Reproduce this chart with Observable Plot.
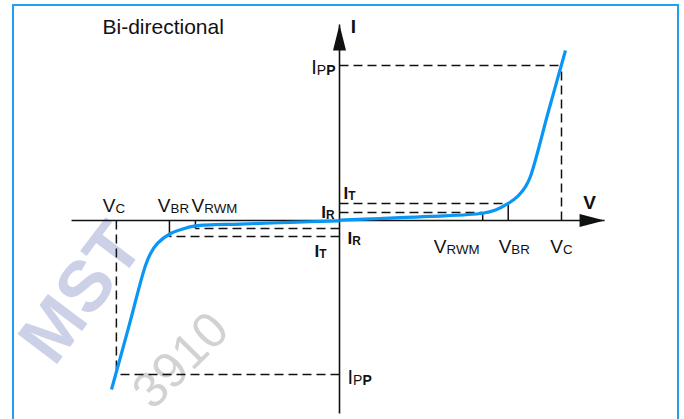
<!DOCTYPE html>
<html><head><meta charset="utf-8">
<script src="https://cdn.jsdelivr.net/npm/d3@7"></script>
<script src="https://cdn.jsdelivr.net/npm/@observablehq/plot@0.6"></script>
<style>
html,body{margin:0;padding:0;background:#fff;width:684px;height:419px;overflow:hidden;font-family:"Liberation Sans",Arial,sans-serif;}
#wrap{position:relative;width:684px;height:419px;overflow:hidden;}
#frame{position:absolute;left:12px;top:4px;width:667px;height:480px;border:2px solid #22a0f0;box-sizing:border-box;pointer-events:none;}
.wm{position:absolute;white-space:nowrap;line-height:1;pointer-events:none;font-family:"Liberation Sans",Arial,sans-serif;}
#wm1{left:80px;top:292px;transform:translate(-50%,-50%) rotate(-53deg);font-size:72px;font-weight:bold;color:#cdd1e8;}
#wm2{left:180px;top:360px;transform:translate(-50%,-50%) rotate(-45deg);font-size:50px;color:#d2d2d2;}
#chart{position:absolute;left:0;top:0;}
</style></head><body>
<div id="wrap">
  <div class="wm" id="wm1">MST</div>
  <div class="wm" id="wm2">3910</div>
  <div id="chart"></div>
  <div id="frame"></div>
</div>
<script>
// ---- data (arbitrary V / I units) ----
const voltageNames = ["V_C", "V_BR", "V_RWM"];
const posVoltages  = [10.0, 7.6, 6.45];
const negVoltages  = [-10.05, -7.66, -6.49];
const currentNames = ["I_PP", "I_T", "I_R"];
const posCurrents  = [10.0, 1.1, 0.52];
const negCurrents  = [-9.94, -1.03, -0.52];

const posCurveV = [0, 1.85, 4.10, 6.44, 7.03, 7.6, 8.06, 8.38, 8.60, 9.41, 10.18];
const posCurveI = [0.03, 0.13, 0.26, 0.47, 0.68, 1.1, 1.61, 2.19, 2.84, 7.03, 10.97];
const negCurveV = [0, -2.21, -4.46, -6.49, -7.07, -7.61, -8.2, -8.51, -8.74, -9.50, -10.27];
const negCurveI = [-0.03, -0.12, -0.23, -0.35, -0.55, -0.84, -1.48, -2.13, -2.90, -6.90, -10.90];

const vAxisExtent = [-12.07, 11.94];
const iAxisExtent = [-12.45, 12.65];
const title = "Bi-directional";
const axisNames = ["V", "I"];

// ---- build tables ----
const toPts = (V, I) => V.map((v, i) => ({v, i: I[i]}));
const posCurve = toPts(posCurveV, posCurveI);
const negCurve = toPts(negCurveV, negCurveI);

function dashed(Vs, Is) {
  const [vc, vbr, vrwm] = Vs, [ipp, it, ir] = Is;
  return [
    {x1: 0, y1: ipp, x2: vc, y2: ipp},
    {x1: vc, y1: 0, x2: vc, y2: ipp},
    {x1: 0, y1: it, x2: vbr, y2: it},
    {x1: 0, y1: ir, x2: vrwm, y2: ir}
  ];
}
function ticks(Vs, Is) {
  const [, vbr, vrwm] = Vs, [, it, ir] = Is;
  return [
    {x1: vbr, y1: 0, x2: vbr, y2: it},
    {x1: vrwm, y1: 0, x2: vrwm, y2: ir}
  ];
}
const dashedSegs = [...dashed(posVoltages, posCurrents), ...dashed(negVoltages, negCurrents)];
const tickSegs = [...ticks(posVoltages, posCurrents), ...ticks(negVoltages, negCurrents)];
const axes = [
  {x1: vAxisExtent[0], y1: 0, x2: vAxisExtent[1], y2: 0},
  {x1: 0, y1: iAxisExtent[0], x2: 0, y2: iAxisExtent[1]}
];

const arrowUp = {draw(c) { c.moveTo(0, 0); c.lineTo(6.5, 26); c.lineTo(-6.5, 26); c.closePath(); }};
const arrowRight = {draw(c) { c.moveTo(0, 0); c.lineTo(-25, -6.5); c.lineTo(-25, 6.5); c.closePath(); }};

const FONT = "Liberation Sans, Arial, Helvetica, sans-serif";
function label(text, x, y, {dx = 0, dy = 0, anchor = "middle", size = 19, weight = "normal"} = {}) {
  return Plot.text([{text, x, y}], {
    x: "x", y: "y", text: "text", dx, dy, textAnchor: anchor, lineAnchor: "bottom",
    fontSize: size, fontWeight: weight, fontFamily: FONT, fill: "#111"
  });
}

const BLUE = "#0a96f5";
const plot = Plot.plot({
  width: 684, height: 419, margin: 0,
  x: {domain: [-339 / 22.2, 345 / 22.2], axis: null},
  y: {domain: [-199 / 15.5, 220 / 15.5], axis: null},
  style: {background: "transparent", overflow: "visible"},
  marks: [
    Plot.link(dashedSegs, {x1: "x1", y1: "y1", x2: "x2", y2: "y2", stroke: "#111", strokeWidth: 1.5, strokeDasharray: "9,5"}),
    Plot.link(tickSegs, {x1: "x1", y1: "y1", x2: "x2", y2: "y2", stroke: "#111", strokeWidth: 1.5}),
    Plot.link(axes, {x1: "x1", y1: "y1", x2: "x2", y2: "y2", stroke: "#111", strokeWidth: 1.6}),
    Plot.dot([{x: 0, y: iAxisExtent[1]}], {x: "x", y: "y", symbol: arrowUp, fill: "#111", stroke: "none"}),
    Plot.dot([{x: vAxisExtent[1], y: 0}], {x: "x", y: "y", symbol: arrowRight, fill: "#111", stroke: "none"}),
    Plot.line(posCurve, {x: "v", y: "i", curve: "catmull-rom", stroke: BLUE, strokeWidth: 3.2, strokeLinecap: "butt"}),
    Plot.line(negCurve, {x: "v", y: "i", curve: "catmull-rom", stroke: BLUE, strokeWidth: 3.2, strokeLinecap: "butt"}),
    // title
    Plot.text([title], {frameAnchor: "top-left", dx: 102, dy: 33, textAnchor: "start", lineAnchor: "bottom", fontSize: 21, fontFamily: FONT, fill: "#111"}),
    // axis names
    label(axisNames[0], vAxisExtent[1], 0, {dx: -15, dy: -12, weight: "bold", size: 19}),
    label(axisNames[1], 0, iAxisExtent[1], {dx: 14, dy: 9, weight: "bold", size: 19}),
    // positive voltage labels (below axis)
    label(voltageNames[0], posVoltages[0], 0, {dx: 0, dy: 32}),
    label(voltageNames[1], posVoltages[1], 0, {dx: 6, dy: 32}),
    label(voltageNames[2], posVoltages[2], 0, {dx: -26, dy: 32}),
    // negative voltage labels (above axis)
    label(voltageNames[0], negVoltages[0], 0, {dx: -2.5, dy: -9}),
    label(voltageNames[1], negVoltages[1], 0, {dx: 4, dy: -9}),
    label(voltageNames[2], negVoltages[2], 0, {dx: 19, dy: -9}),
    // current labels
    label(currentNames[0], 0, posCurrents[0], {anchor: "end", dx: -4, dy: 8, size: 20}),
    label(currentNames[1], 0, posCurrents[1], {anchor: "start", dx: 4, dy: -4.5, size: 17, weight: "bold"}),
    label(currentNames[2], 0, posCurrents[2], {anchor: "end", dx: -5, dy: 6, size: 17, weight: "bold"}),
    label(currentNames[2], 0, negCurrents[2], {anchor: "start", dx: 8, dy: 15, size: 17, weight: "bold"}),
    label(currentNames[1], 0, negCurrents[1], {anchor: "end", dx: -13, dy: 21, size: 17, weight: "bold"}),
    label(currentNames[0], 0, negCurrents[0], {anchor: "start", dx: 8, dy: 9, size: 20})
  ]
});

// subscripts: "V_BR" -> V + smaller BR on the same baseline
const NS = "http://www.w3.org/2000/svg";
plot.querySelectorAll("text").forEach(t => {
  const s = t.textContent;
  const k = s.indexOf("_");
  if (k < 0) return;
  const main = s.slice(0, k), sub = s.slice(k + 1);
  while (t.firstChild) t.removeChild(t.firstChild);
  t.appendChild(document.createTextNode(main));
  const parts = sub === "PP" ? [["P", false], ["P", true]] : [[sub, null]];
  parts.forEach(([str, bold], j) => {
    const ts = document.createElementNS(NS, "tspan");
    ts.setAttribute("font-size", "0.7em");
    if (j === 0) ts.setAttribute("dy", "1");
    if (bold === true) ts.setAttribute("font-weight", "bold");
    ts.textContent = str;
    t.appendChild(ts);
  });
});
document.getElementById("chart").appendChild(plot);
</script>
</body></html>
